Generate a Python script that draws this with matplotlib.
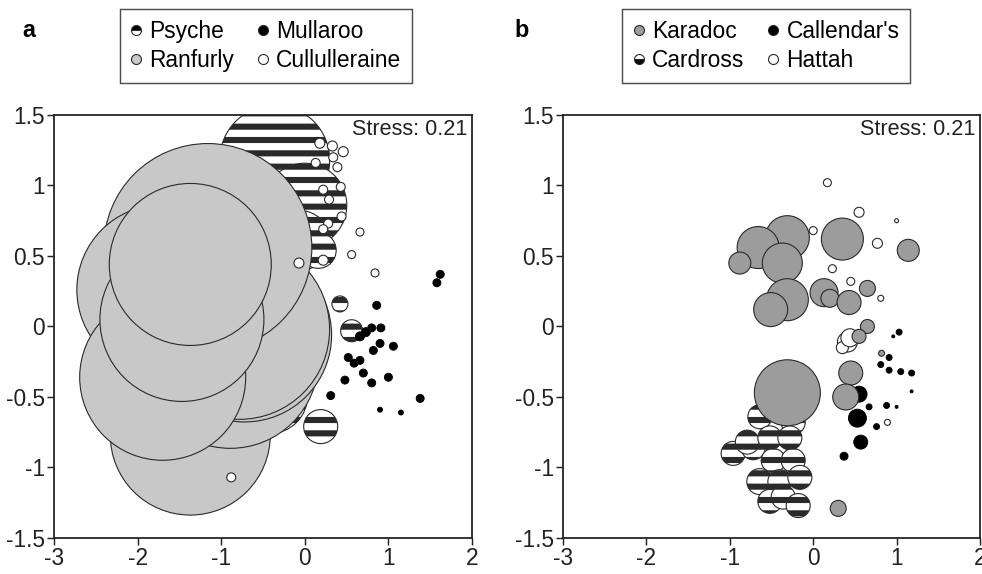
import matplotlib
matplotlib.use("Agg")
import matplotlib.pyplot as plt
from matplotlib.lines import Line2D

plt.rcParams["font.family"] = ["Liberation Sans", "DejaVu Sans"]
plt.rcParams["hatch.linewidth"] = 5.5
plt.rcParams["hatch.color"] = "black"
plt.rcParams["axes.unicode_minus"] = False

DPI = 80

# ---- panel a data (x, y, bubble diameter) ----
psyche_x = [-0.36, 0.00, -0.06, 0.16, 0.42, 0.56, 0.19, -0.42]
psyche_y = [1.18, 0.86, 0.61, 0.54, 0.16, -0.03, -0.71, -0.49]
psyche_d = [110, 84, 60, 36, 16, 22, 34, 76]

ranfurly_x = [-1.37, -0.89, -0.72, -0.78, -1.16, -1.71, -1.70, -1.47, -1.37]
ranfurly_y = [-0.77, -0.24, -0.06, -0.02, 0.56, 0.26, -0.36, 0.05, 0.44]
ranfurly_d = [160, 176, 174, 180, 208, 170, 166, 164, 162]

mullaroo_x = [1.62, 1.58, 0.86, 0.80, 0.91, 0.90, 1.06, 0.82, 0.52, 0.66, 0.59,
              0.70, 1.00, 0.48, 0.80, 0.31, 1.38, 0.90, 1.15, 0.66, 0.73]
mullaroo_y = [0.37, 0.31, 0.15, -0.01, -0.01, -0.12, -0.14, -0.17, -0.22, -0.24, -0.26,
              -0.33, -0.36, -0.38, -0.40, -0.49, -0.51, -0.59, -0.61, -0.07, -0.04]
mullaroo_d = [8, 8, 8, 8, 8, 8, 8, 8, 8, 8, 8,
              8, 8, 8, 8, 8, 8, 5, 5, 9, 9]

cull_x = [0.18, 0.33, 0.46, 0.34, 0.13, 0.39, 0.22, 0.43, 0.29, 0.44, 0.28, 0.22,
          0.22, 0.66, 0.56, 0.84, -0.07, -0.88]
cull_y = [1.30, 1.28, 1.24, 1.20, 1.16, 1.13, 0.97, 0.99, 0.90, 0.78, 0.73, 0.69,
          0.47, 0.67, 0.51, 0.38, 0.45, -1.07]
cull_d = [10, 10, 10, 9, 9, 9, 9, 9, 9, 9, 9, 9,
          10, 8, 8, 8, 10, 9]

# ---- panel b data ----
karadoc_x = [-0.31, -0.66, -0.88, -0.37, 0.35, 1.14, -0.31, -0.51, 0.13, 0.20,
             0.43, 0.65, 0.65, 0.55, 0.45, 0.39, 0.82, -0.31, 0.30]
karadoc_y = [0.63, 0.56, 0.45, 0.45, 0.62, 0.54, 0.19, 0.12, 0.24, 0.20,
             0.17, 0.27, 0.00, -0.07, -0.33, -0.50, -0.19, -0.47, -1.29]
karadoc_d = [44, 42, 22, 40, 42, 22, 42, 34, 28, 18,
             24, 16, 14, 14, 24, 26, 6, 66, 16]

callendar_x = [1.03, 0.96, 0.91, 0.81, 0.91, 1.05, 1.18, 1.18, 0.55, 0.67,
               0.88, 1.00, 0.53, 0.76, 0.57, 0.37]
callendar_y = [-0.04, -0.07, -0.22, -0.27, -0.31, -0.32, -0.33, -0.46, -0.48, -0.57,
               -0.56, -0.57, -0.65, -0.71, -0.82, -0.92]
callendar_d = [6, 3, 6, 6, 6, 6, 6, 3, 16, 6,
               6, 3, 18, 6, 14, 8]

cardross_x = [-0.96, -0.72, -0.79, -0.64, -0.24, -0.52, -0.28, -0.48, -0.24,
              -0.64, -0.40, -0.16, -0.52, -0.36, -0.18]
cardross_y = [-0.90, -0.86, -0.82, -0.64, -0.68, -0.79, -0.79, -0.95, -0.95,
              -1.10, -1.10, -1.07, -1.24, -1.21, -1.27]
cardross_d = [24, 24, 24, 24, 24, 24, 24, 24, 24,
              26, 24, 24, 24, 24, 24]

hattah_x = [0.17, 0.55, 0.00, 1.00, 0.77, 0.23, 0.45, 0.81, 0.41, 0.35, 0.44, 0.89]
hattah_y = [1.02, 0.81, 0.68, 0.75, 0.59, 0.41, 0.32, 0.20, -0.11, -0.15, -0.08, -0.68]
hattah_d = [8, 10, 8, 4, 10, 8, 8, 6, 20, 12, 18, 6]

xticks = [-3, -2, -1, 0, 1, 2]
yticks = [-1.5, -1, -0.5, 0, 0.5, 1, 1.5]
stress = "Stress: 0.21"

LIGHT = "#c8c8c8"
DARK = "#9c9c9c"
EDGE = "#2a2a2a"
FS = 20.5


def area(d):
    # diameter in pixels -> scatter area in points^2
    return [(v * 72.0 / DPI) ** 2 for v in d]


def style_axes(ax):
    ax.set_xlim(-3, 2)
    ax.set_ylim(-1.5, 1.5)
    ax.set_xticks(xticks)
    ax.set_yticks(yticks)
    ax.set_xticklabels([f"{t:g}" for t in xticks])
    ax.set_yticklabels([f"{t:g}" for t in yticks])
    ax.tick_params(direction="out", length=6, width=1.3, labelsize=FS,
                   colors="#222222", pad=2)
    for s in ax.spines.values():
        s.set_linewidth(1.6)
        s.set_color("#222222")
    ax.text(0.988, 0.99, stress, transform=ax.transAxes, ha="right", va="top",
            fontsize=FS - 1, color="#222222")


fig = plt.figure(figsize=(982 / DPI, 574 / DPI), dpi=DPI)
ax_a = fig.add_axes([54 / 982, 1 - 538 / 574, 418 / 982, 423 / 574])
ax_b = fig.add_axes([563 / 982, 1 - 538 / 574, 417 / 982, 423 / 574])

# panel a
ax_a.scatter(psyche_x, psyche_y, s=area(psyche_d), facecolor="white", edgecolor=EDGE,
             hatch="-", linewidths=1.0, zorder=2)
ax_a.scatter(ranfurly_x, ranfurly_y, s=area(ranfurly_d), facecolor=LIGHT, edgecolor=EDGE,
             linewidths=1.0, zorder=3)
ax_a.scatter(mullaroo_x, mullaroo_y, s=area(mullaroo_d), facecolor="black", edgecolor="black",
             linewidths=0.8, zorder=4)
ax_a.scatter(cull_x, cull_y, s=area(cull_d), facecolor="white", edgecolor=EDGE,
             linewidths=1.0, zorder=5)
style_axes(ax_a)

# panel b
ax_b.scatter(hattah_x, hattah_y, s=area(hattah_d), facecolor="white", edgecolor=EDGE,
             linewidths=1.0, zorder=2)
ax_b.scatter(callendar_x, callendar_y, s=area(callendar_d), facecolor="black", edgecolor="black",
             linewidths=0.8, zorder=3)
ax_b.scatter(cardross_x, cardross_y, s=area(cardross_d), facecolor="white", edgecolor=EDGE,
             hatch="-", linewidths=1.0, zorder=4)
ax_b.scatter(karadoc_x, karadoc_y, s=area(karadoc_d), facecolor=DARK, edgecolor=EDGE,
             linewidths=1.0, zorder=5)
style_axes(ax_b)

# panel letters
fig.text(22 / 982, 1 - 37 / 574, "a", fontsize=21, fontweight="bold", va="baseline")
fig.text(514 / 982, 1 - 37 / 574, "b", fontsize=21, fontweight="bold", va="baseline")


def mk(fc, fill="full", alt="white"):
    return Line2D([], [], linestyle="none", marker="o", markersize=9,
                  markerfacecolor=fc, markerfacecoloralt=alt, fillstyle=fill,
                  markeredgecolor=EDGE, markeredgewidth=1.0)


leg_kw = dict(loc="center", ncol=2, frameon=True, fancybox=False, fontsize=FS,
              handlelength=0.55, handletextpad=0.3, columnspacing=1.0,
              borderpad=0.45, labelspacing=0.3, edgecolor="#222222")

la = fig.legend([mk("black", "top"), mk(LIGHT), mk("black"), mk("white")],
                ["Psyche", "Ranfurly", "Mullaroo", "Cullulleraine"],
                bbox_to_anchor=(265.5 / 982, 1 - 46 / 574), **leg_kw)
la.get_frame().set_linewidth(1.3)
lb = fig.legend([mk(DARK), mk("black", "bottom"), mk("black"), mk("white")],
                ["Karadoc", "Cardross", "Callendar's", "Hattah"],
                bbox_to_anchor=(766 / 982, 1 - 46 / 574), **leg_kw)
lb.get_frame().set_linewidth(1.3)

fig.savefig("out.png", dpi=DPI, facecolor="white")
